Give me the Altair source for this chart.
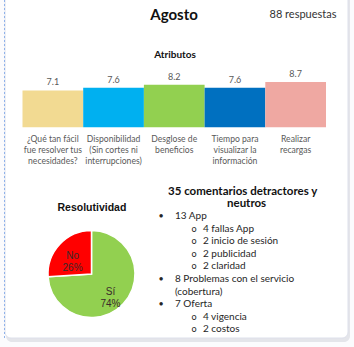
import altair as alt
import pandas as pd

# ---- data ----
attr_labels = [
    "¿Qué tan fácil\nfue resolver tus\nnecesidades?",
    "Disponibilidad\n(Sin cortes ni\ninterrupciones)",
    "Desglose de\nbeneficios",
    "Tiempo para\nvisualizar la\ninformación",
    "Realizar\nrecargas",
]
attr_values = [7.1, 7.6, 8.2, 7.6, 8.7]
attr_colors = ["#F2DA92", "#00B0F0", "#92D050", "#0070C0", "#EFA8A2"]

pie_labels = ["Sí", "No"]
pie_values = [74, 26]
pie_colors = ["#92D050", "#FF0000"]

comment_lines = ["13 App", "4 fallas App", "2 inicio de sesión", "2 publicidad",
                 "2 claridad", "8 Problemas con el servicio", "(cobertura)",
                 "7 Oferta", "4 vigencia", "2 costos"]
comment_levels = [0, 1, 1, 1, 1, 0, 0, 0, 1, 1]
comment_bullets = [1, 1, 1, 1, 1, 1, 0, 1, 1, 1]

title = "Agosto"
responses = "88 respuestas"
bar_title = "Atributos"
pie_title = "Resolutividad"
comments_title_1 = "35 comentarios detractores y"
comments_title_2 = "neutros"

# ---- tables ----
bars_df = pd.DataFrame({"attr": attr_labels, "value": attr_values, "color": attr_colors})
pie_df = pd.DataFrame({"k": pie_labels, "v": pie_values, "color": pie_colors,
                       "o": list(range(len(pie_labels))),
                       "lab": [f"{k}\n{v}%" for k, v in zip(pie_labels, pie_values)]})
com_df = pd.DataFrame({"t": comment_lines, "lvl": comment_levels, "b": comment_bullets,
                       "i": list(range(len(comment_lines)))})
one = pd.DataFrame({"a": [0]})

LBL = "#595959"

# card decoration
shadow = alt.Chart(one).mark_rect(color="#e4e5ea", cornerRadius=6).encode(
    x=alt.value(6), x2=alt.value(350), y=alt.value(-10), y2=alt.value(342))
card = alt.Chart(one).mark_rect(fill="white", stroke="#dde0ea", strokeWidth=1, cornerRadius=6).encode(
    x=alt.value(5), x2=alt.value(348), y=alt.value(-10), y2=alt.value(338))
dotted = alt.Chart(one).mark_rule(color="#8fb2ea", strokeDash=[2, 2], strokeWidth=1).encode(
    x=alt.value(4.5), y=alt.value(0), y2=alt.value(338))

# header
t_title = alt.Chart(one).mark_text(text=title, font="Lato", fontWeight="bold", fontSize=15,
                                   color="#111111").encode(x=alt.value(174), y=alt.value(15))
t_resp = alt.Chart(one).mark_text(text=responses, font="Lato", fontSize=11,
                                  color="#333333").encode(x=alt.value(303), y=alt.value(15))
t_bar = alt.Chart(one).mark_text(text=bar_title, font="Lato", fontWeight="bold", fontSize=10,
                                 color="#111111").encode(x=alt.value(175), y=alt.value(55))

xs = alt.X("attr:N", sort=attr_labels, axis=None,
           scale=alt.Scale(range=[22.5, 326], paddingInner=0, paddingOuter=0))
ys = alt.Y("value:Q", axis=None, scale=alt.Scale(domain=[0, 10], range=[127.3, 75.3]))

bars = alt.Chart(bars_df).mark_bar(strokeWidth=0).encode(
    x=xs, y=ys, color=alt.Color("color:N", scale=None))
bar_vals = alt.Chart(bars_df).mark_text(font="Lato", fontSize=9, color=LBL, baseline="bottom", dy=-3).encode(
    x=xs, y=ys, text=alt.Text("value:Q", format=".1f"))
bar_lbls = alt.Chart(bars_df).mark_text(font="Lato", fontSize=8.6, color=LBL, baseline="top",
                                        lineBreak="\n", lineHeight=11.2).encode(
    x=xs, y=alt.value(134.5), text="attr:N")

# pie
t_pie = alt.Chart(one).mark_text(text=pie_title, font="Liberation Sans", fontWeight="bold", fontSize=10.5,
                                 color="#111111", align="left").encode(x=alt.value(57.5), y=alt.value(207.5))
theta = alt.Theta("v:Q", stack=True)
pie = alt.Chart(pie_df).mark_arc(outerRadius=43.5, stroke="white", strokeWidth=1.5).encode(
    theta=theta, order=alt.Order("o:Q"), color=alt.Color("color:N", scale=None),
    x=alt.value(91.5), y=alt.value(274))
pie_txt = alt.Chart(pie_df).mark_text(radius=26, font="Liberation Sans", fontSize=10, color="#3a2a2a",
                                      lineBreak="\n", lineHeight=12).encode(
    theta=theta, order=alt.Order("o:Q"), text="lab:N",
    x=alt.value(91.5), y=alt.value(274))

# comments
t_com1 = alt.Chart(one).mark_text(text=comments_title_1, font="Lato", fontWeight="bold",
                                  fontSize=11.5, color="#111111", align="left").encode(
    x=alt.value(168), y=alt.value(191.5))
t_com2 = alt.Chart(one).mark_text(text=comments_title_2, font="Lato", fontWeight="bold",
                                  fontSize=11.5, color="#111111", align="left").encode(
    x=alt.value(227), y=alt.value(203.5))
com_txt = alt.Chart(com_df).transform_calculate(
    px="datum.lvl == 0 ? 175 : 203", py="216 + datum.i * 12.6"
).mark_text(font="Lato", fontSize=10, color="#262626", align="left").encode(
    x=alt.X("px:Q", scale=None), y=alt.Y("py:Q", scale=None), text="t:N")
com_bul = alt.Chart(com_df).transform_filter("datum.b == 1").transform_calculate(
    px="datum.lvl == 0 ? 161 : 194", py="216 + datum.i * 12.6",
    sym="datum.lvl == 0 ? '•' : 'o'"
).mark_text(font="Lato", fontSize=9, color="#262626").encode(
    x=alt.X("px:Q", scale=None), y=alt.Y("py:Q", scale=None), text="sym:N")

chart = alt.layer(
    shadow, card, dotted, t_title, t_resp, t_bar, bars, bar_vals, bar_lbls,
    t_pie, pie, pie_txt, t_com1, t_com2, com_txt, com_bul
).properties(
    width=354, height=347, autosize=alt.AutoSizeParams(type="none"), padding=0,
    background="#fbfbfd"
).configure_view(stroke=None)

chart.save("out.html", embed_options={"renderer": "svg", "actions": False})
